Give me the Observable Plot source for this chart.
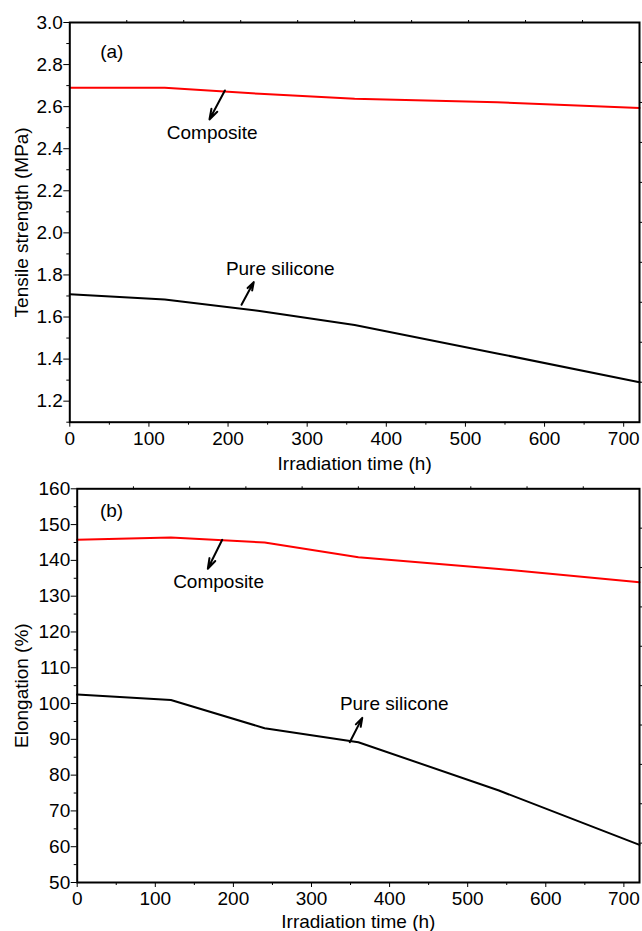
<!DOCTYPE html>
<html><head><meta charset="utf-8">
<script src="https://cdn.jsdelivr.net/npm/d3@7"></script>
<script src="https://cdn.jsdelivr.net/npm/@observablehq/plot@0.6"></script>
<style>body{margin:0;background:#fff;} #chart svg{display:block;}</style>
</head><body><div id="chart"></div>
<script>
// ---- data ----
const hours = [0, 120, 240, 360, 540, 720];
const tensileComposite = [2.69, 2.69, 2.661, 2.637, 2.621, 2.594];
const tensilePure = [1.708, 1.683, 1.629, 1.562, 1.427, 1.29];
const elongComposite = [145.75, 146.4, 145.0, 140.9, 137.6, 133.9];
const elongPure = [102.5, 101.0, 93.1, 89.2, 75.7, 60.5];

const xMajor = [0, 100, 200, 300, 400, 500, 600, 700];
const xMinor = [50, 150, 250, 350, 450, 550, 650];
const xTop = [72, 144, 216, 288, 360, 432, 504, 576, 648];
const yMajorA = [1.2, 1.4, 1.6, 1.8, 2.0, 2.2, 2.4, 2.6, 2.8, 3.0];
const yMinorA = [1.1, 1.3, 1.5, 1.7, 1.9, 2.1, 2.3, 2.5, 2.7, 2.9];
const yRightA = [1.29, 1.48, 1.67, 1.86, 2.05, 2.24, 2.43, 2.62, 2.81];
const yMajorB = [50, 60, 70, 80, 90, 100, 110, 120, 130, 140, 150, 160];
const yMinorB = [55, 65, 75, 85, 95, 105, 115, 125, 135, 145, 155];
const yRightB = [61, 72, 83, 94, 105, 116, 127, 138, 149];

const panelLabels = ["(a)", "(b)"];
const seriesNames = ["Composite", "Pure silicone"];
const xLabel = "Irradiation time (h)";
const yLabels = ["Tensile strength (MPa)", "Elongation (%)"];

// annotation positions (data coords)
const notesA = [
  {text: panelLabels[0], h: 53, v: 2.862},
  {text: seriesNames[0], h: 180, v: 2.474},
  {text: seriesNames[1], h: 266, v: 1.829}
];
const arrowsA = [
  {h1: 196, v1: 2.677, h2: 176.5, v2: 2.539},
  {h1: 217, v1: 1.658, h2: 232.5, v2: 1.766}
];
const notesB = [
  {text: panelLabels[1], h: 44, v: 153.9},
  {text: seriesNames[0], h: 181, v: 134.1},
  {text: seriesNames[1], h: 406, v: 99.9}
];
const arrowsB = [
  {h1: 185.7, v1: 145.75, h2: 167.2, v2: 137.65},
  {h1: 349, v1: 89.2, h2: 365, v2: 96.0}
];

const FONT = "'Liberation Sans', Arial, Helvetica, sans-serif";

function panel({comp, pure, yDomain, yMajor, yMinor, yRight, yFmt, yLabel, notes, arrows,
                height, mL, mT, mB, yLabelDx, xLabelDy}) {
  const compData = hours.map((h, i) => ({h, v: comp[i]}));
  const pureData = hours.map((h, i) => ({h, v: pure[i]}));
  return Plot.plot({
    width: 642, height,
    marginLeft: mL, marginRight: 3, marginTop: mT, marginBottom: mB,
    style: {fontFamily: FONT, fontSize: "19px", color: "black", background: "white", overflow: "visible"},
    x: {domain: [0, 720]},
    y: {domain: yDomain},
    marks: [
      Plot.line(pureData, {x: "h", y: "v", stroke: "black", strokeWidth: 2}),
      Plot.line(compData, {x: "h", y: "v", stroke: "#ff0000", strokeWidth: 2}),
      Plot.frame({stroke: "black", strokeWidth: 2}),
      Plot.axisX({anchor: "bottom", ticks: xMajor, tickSize: 5, tickPadding: 4, tickFormat: d3.format("d"), fontSize: 19, label: null}),
      Plot.axisX({anchor: "bottom", ticks: xMinor, tickSize: 3, tickFormat: () => "", label: null}),
      Plot.axisX({anchor: "top", ticks: xTop, tickSize: 3, tickFormat: () => "", label: null}),
      Plot.axisY({anchor: "left", ticks: yMajor, tickSize: 6, tickPadding: 1, tickFormat: yFmt, fontSize: 19, label: null}),
      Plot.axisY({anchor: "left", ticks: yMinor, tickSize: 3, tickFormat: () => "", label: null}),
      Plot.axisY({anchor: "right", ticks: yRight, tickSize: 3, tickFormat: () => "", label: null}),
      Plot.text([xLabel], {frameAnchor: "bottom", dy: xLabelDy, lineAnchor: "middle", fontSize: 19, fill: "black"}),
      Plot.text([yLabel], {frameAnchor: "left", dx: yLabelDx, rotate: -90, textAnchor: "middle", lineAnchor: "middle", fontSize: 19, fill: "black"}),
      Plot.text(notes, {x: "h", y: "v", text: "text", fontSize: 19, fill: "black", lineAnchor: "middle", textAnchor: "middle"}),
      Plot.arrow(arrows, {x1: "h1", y1: "v1", x2: "h2", y2: "v2", stroke: "black", strokeWidth: 2, headLength: 9, headAngle: 35})
    ]
  });
}

const chart = document.getElementById("chart");
chart.append(panel({
  comp: tensileComposite, pure: tensilePure, yDomain: [1.1, 3.0],
  yMajor: yMajorA, yMinor: yMinorA, yRight: yRightA, yFmt: d3.format(".1f"),
  yLabel: yLabels[0], notes: notesA, arrows: arrowsA,
  height: 476, mL: 69.3, mT: 22, mB: 54.3, yLabelDx: -48, xLabelDy: 41.6
}));
chart.append(panel({
  comp: elongComposite, pure: elongPure, yDomain: [50, 160],
  yMajor: yMajorB, yMinor: yMinorB, yRight: yRightB, yFmt: d3.format("d"),
  yLabel: yLabels[1], notes: notesB, arrows: arrowsB,
  height: 455, mL: 76.7, mT: 12.3, mB: 49, yLabelDx: -55.7, xLabelDy: 39.7
}));
</script>
</body></html>
